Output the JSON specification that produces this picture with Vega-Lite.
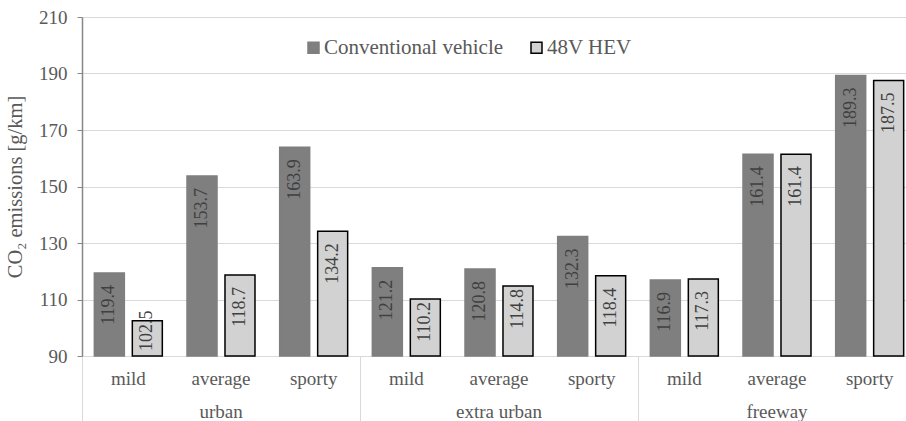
{
  "$schema": "https://vega.github.io/schema/vega-lite/v6.json",
  "width": 824,
  "height": 339,
  "autosize": {"type": "none"},
  "padding": {"left": 82, "top": 17, "right": 0, "bottom": 65},
  "background": "white",
  "config": {
    "font": "Liberation Serif, Times New Roman, serif",
    "view": {"stroke": null},
    "axis": {"labelFont": "Liberation Serif, Times New Roman, serif", "titleFont": "Liberation Serif, Times New Roman, serif"},
    "legend": {"padding": 0, "labelFont": "Liberation Serif, Times New Roman, serif"},
    "text": {"font": "Liberation Serif, Times New Roman, serif"}
  },
  "data": {
    "values": [
      {"key": "urban|mild", "series": "Conventional vehicle", "value": 119.4},
      {"key": "urban|mild", "series": "48V HEV", "value": 102.5},
      {"key": "urban|average", "series": "Conventional vehicle", "value": 153.7},
      {"key": "urban|average", "series": "48V HEV", "value": 118.7},
      {"key": "urban|sporty", "series": "Conventional vehicle", "value": 163.9},
      {"key": "urban|sporty", "series": "48V HEV", "value": 134.2},
      {"key": "extra urban|mild", "series": "Conventional vehicle", "value": 121.2},
      {"key": "extra urban|mild", "series": "48V HEV", "value": 110.2},
      {"key": "extra urban|average", "series": "Conventional vehicle", "value": 120.8},
      {"key": "extra urban|average", "series": "48V HEV", "value": 114.8},
      {"key": "extra urban|sporty", "series": "Conventional vehicle", "value": 132.3},
      {"key": "extra urban|sporty", "series": "48V HEV", "value": 118.4},
      {"key": "freeway|mild", "series": "Conventional vehicle", "value": 116.9},
      {"key": "freeway|mild", "series": "48V HEV", "value": 117.3},
      {"key": "freeway|average", "series": "Conventional vehicle", "value": 161.4},
      {"key": "freeway|average", "series": "48V HEV", "value": 161.4},
      {"key": "freeway|sporty", "series": "Conventional vehicle", "value": 189.3},
      {"key": "freeway|sporty", "series": "48V HEV", "value": 187.5}
    ]
  },
  "encoding": {
    "xOffset": {
      "field": "series",
      "type": "nominal",
      "scale": {"domain": ["Conventional vehicle", "48V HEV"], "paddingInner": 0.21, "paddingOuter": 0.325}
    }
  },
  "layer": [
    {
      "mark": {"type": "bar", "strokeWidth": 1.5},
      "encoding": {
        "x": {
          "field": "key",
          "type": "nominal",
          "sort": null,
          "scale": {"range": [0, 834], "paddingInner": 0, "paddingOuter": 0},
          "axis": {
            "orient": "bottom",
            "title": null,
            "ticks": false,
            "tickSize": 0,
            "domainColor": "#d9d9d9",
            "domainWidth": 1,
            "labelAngle": 0,
            "labelFont": "Liberation Serif, Times New Roman, serif",
            "labelFontSize": 19,
            "labelColor": "#595959",
            "labelPadding": 13,
            "labelLineHeight": 33,
            "labelBaseline": "top",
            "labelExpr": "slice(datum.value, indexof(datum.value, '|') + 1) == 'average' ? ['average', slice(datum.value, 0, indexof(datum.value, '|'))] : slice(datum.value, indexof(datum.value, '|') + 1)"
          }
        },
        "y": {
          "field": "value",
          "type": "quantitative",
          "scale": {"domain": [90, 210], "nice": false, "zero": false},
          "axis": {
            "title": "CO₂ emissions [g/km]",
            "values": [90, 110, 130, 150, 170, 190, 210],
            "grid": true,
            "gridColor": "#d9d9d9",
            "domainColor": "#868686",
            "domainWidth": 1.5,
            "tickColor": "#868686",
            "tickSize": 5,
            "labelPadding": 10,
            "labelFont": "Liberation Serif, Times New Roman, serif",
            "labelFontSize": 19,
            "labelColor": "#595959",
            "titleFont": "Liberation Serif, Times New Roman, serif",
            "titleFontSize": 20.5,
            "titleFontWeight": "normal",
            "titleColor": "#595959",
            "titlePadding": 13
          }
        },
        "y2": {"datum": 90},
        "fill": {
          "field": "series",
          "type": "nominal",
          "scale": {"domain": ["Conventional vehicle", "48V HEV"], "range": ["#7f7f7f", "#d2d2d2"]},
          "legend": {
            "title": null,
            "orient": "none",
            "legendX": 221,
            "legendY": 20,
            "direction": "horizontal",
            "symbolType": "square",
            "symbolSize": 121,
            "symbolStrokeWidth": 1.5,
            "labelFont": "Liberation Serif, Times New Roman, serif",
            "labelFontSize": 21,
            "labelColor": "#595959",
            "labelOffset": 0,
            "labelLimit": 400,
            "columnPadding": 22
          }
        },
        "stroke": {
          "field": "series",
          "type": "nominal",
          "scale": {"domain": ["Conventional vehicle", "48V HEV"], "range": ["#7f7f7f", "#000000"]},
          "legend": {
            "title": null,
            "orient": "none",
            "legendX": 221,
            "legendY": 20,
            "direction": "horizontal",
            "symbolType": "square",
            "symbolSize": 121,
            "symbolStrokeWidth": 1.5,
            "labelFont": "Liberation Serif, Times New Roman, serif",
            "labelFontSize": 21,
            "labelColor": "#595959",
            "labelOffset": 0,
            "labelLimit": 400,
            "columnPadding": 22
          }
        }
      }
    },
    {
      "transform": [{"filter": "datum.value >= 115"}],
      "mark": {"type": "text", "angle": 270, "align": "right", "baseline": "middle", "dx": -12, "font": "Liberation Serif, Times New Roman, serif", "fontSize": 18, "color": "#404040"},
      "encoding": {
        "x": {"field": "key", "type": "nominal", "sort": null, "axis": null},
        "y": {"field": "value", "type": "quantitative", "axis": {"title": "CO₂ emissions [g/km]"}},
        "text": {"field": "value", "type": "quantitative", "format": ".1f"}
      }
    },
    {
      "transform": [{"filter": "datum.value >= 105 && datum.value < 115"}],
      "mark": {"type": "text", "angle": 270, "align": "right", "baseline": "middle", "dx": -3, "font": "Liberation Serif, Times New Roman, serif", "fontSize": 18, "color": "#404040"},
      "encoding": {
        "x": {"field": "key", "type": "nominal", "sort": null, "axis": null},
        "y": {"field": "value", "type": "quantitative", "axis": {"title": "CO₂ emissions [g/km]"}},
        "text": {"field": "value", "type": "quantitative", "format": ".1f"}
      }
    },
    {
      "transform": [{"filter": "datum.value < 105"}],
      "mark": {"type": "text", "angle": 270, "align": "left", "baseline": "middle", "dx": 5, "font": "Liberation Serif, Times New Roman, serif", "fontSize": 18, "color": "#404040"},
      "encoding": {
        "x": {
          "field": "key",
          "type": "nominal",
          "sort": null,
          "axis": {
            "orient": "bottom",
            "title": null,
            "values": ["urban|mild", "extra urban|mild", "freeway|mild"],
            "bandPosition": 0,
            "ticks": true,
            "tickSize": 70,
            "tickColor": "#d9d9d9",
            "tickWidth": 1,
            "labels": false,
            "domain": false,
            "grid": false
          }
        },
        "y": {"datum": 90, "type": "quantitative", "axis": {"title": "CO₂ emissions [g/km]"}},
        "text": {"field": "value", "type": "quantitative", "format": ".1f"}
      }
    }
  ],
  "resolve": {"axis": {"x": "independent"}}
}
